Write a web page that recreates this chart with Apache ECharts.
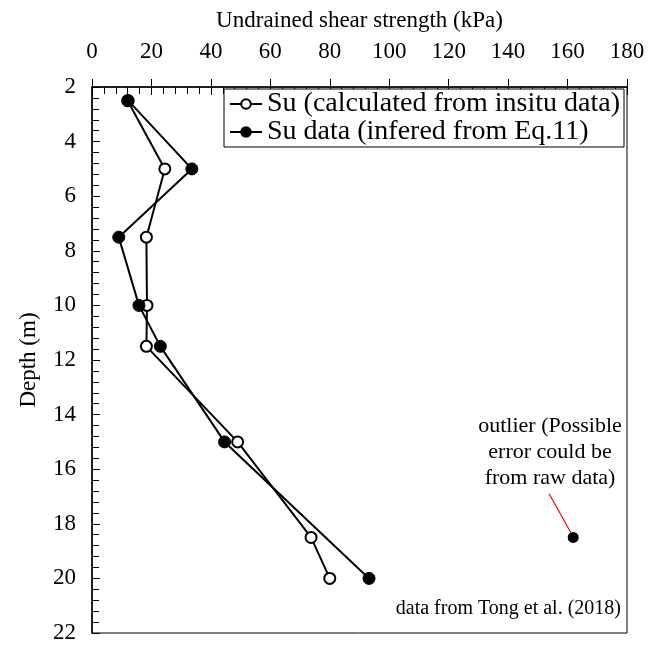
<!DOCTYPE html>
<html><head><meta charset="utf-8">
<script src="https://cdn.jsdelivr.net/npm/echarts@6/dist/echarts.min.js"></script>
<style>html,body{margin:0;padding:0;background:#fff}#c{width:654px;height:649px}</style>
</head><body><div id="c"></div>
<script>
const FONT = "'Liberation Serif','Times New Roman',serif";
// data
const depthCalc = [2.5, 5, 7.5, 10, 11.5, 15, 18.5, 20];
const suCalc    = [12, 24.5, 18.3, 18.5, 18.3, 49, 73.7, 80];
const depthInf  = [2.5, 5, 7.5, 10, 11.5, 15, 20];
const suInf     = [12.2, 33.6, 9, 15.8, 23, 44.6, 93.2];
const outlierDepth = [18.5];
const outlierSu    = [161.9];
const xTicks = [0, 20, 40, 60, 80, 100, 120, 140, 160, 180];
const yTicks = [2, 4, 6, 8, 10, 12, 14, 16, 18, 20, 22];
const names = ['Su (calculated from insitu data)', 'Su data (infered from Eq.11)'];
const annotLine = [[153.8, 16.9], [161.5, 18.4]];

const chart = echarts.init(document.getElementById('c'));
const pair = (xs, ys) => xs.map((v, i) => [v, ys[i]]);
const baseX = {
  type: 'value', position: 'top', min: xTicks[0], max: xTicks[xTicks.length - 1], interval: 20,
  splitLine: { show: false }
};
const baseY = {
  type: 'value', inverse: true, min: yTicks[0], max: yTicks[yTicks.length - 1], interval: 2,
  splitLine: { show: false }
};
chart.setOption({
  animation: false,
  textStyle: { fontFamily: FONT },
  grid: { left: 92, right: 27, top: 87, bottom: 16, show: true, borderColor: '#000', borderWidth: 1 },
  legend: {
    data: names, orient: 'vertical', right: 30, top: 89, itemGap: 0, itemWidth: 32, itemHeight: 12,
    borderColor: '#000', borderWidth: 1, padding: [1, 4, 1, 5], backgroundColor: '#fff',
    textStyle: { fontFamily: FONT, fontSize: 28, lineHeight: 27, color: '#000' }
  },
  xAxis: [
    Object.assign({}, baseX, {
      name: 'Undrained shear strength (kPa)', nameLocation: 'middle', nameGap: 55,
      nameTextStyle: { fontFamily: FONT, fontSize: 23, color: '#000' },
      axisLine: { lineStyle: { color: '#000', width: 1.5 } },
      axisTick: { inside: true, length: 8, lineStyle: { color: '#000' } },
      minorTick: { show: true, splitNumber: 5, length: 7, lineStyle: { color: '#000' } },
      axisLabel: { margin: 24, fontFamily: FONT, fontSize: 23, color: '#000' }
    }),
    Object.assign({}, baseX, {
      axisLine: { show: false }, axisLabel: { show: false },
      axisTick: { inside: false, length: 8, lineStyle: { color: '#000' } }
    })
  ],
  yAxis: [
    Object.assign({}, baseY, {
      name: 'Depth (m)', nameLocation: 'middle', nameGap: 52,
      nameTextStyle: { fontFamily: FONT, fontSize: 23, color: '#000' },
      axisLine: { lineStyle: { color: '#000', width: 1.5 } },
      axisTick: { inside: true, length: 8, lineStyle: { color: '#000' } },
      minorTick: { show: true, splitNumber: 5, length: 7, lineStyle: { color: '#000' } },
      axisLabel: { margin: 16, fontFamily: FONT, fontSize: 23, color: '#000' }
    }),
    Object.assign({}, baseY, {
      axisLine: { show: false }, axisLabel: { show: false },
      axisTick: { inside: false, length: 8, lineStyle: { color: '#000' } }
    })
  ],
  series: [
    {
      name: names[0], type: 'line', data: pair(suCalc, depthCalc),
      symbol: 'circle', symbolSize: 11, lineStyle: { color: '#000', width: 2 },
      itemStyle: { color: '#fff', borderColor: '#000', borderWidth: 2 }
    },
    {
      name: names[1], type: 'line', data: pair(suInf, depthInf),
      symbol: 'circle', symbolSize: 12, lineStyle: { color: '#000', width: 2 },
      itemStyle: { color: '#000', borderColor: '#000', borderWidth: 1 }
    },
    {
      name: 'outlier', type: 'scatter', data: pair(outlierSu, outlierDepth), z: 3,
      symbol: 'circle', symbolSize: 11, itemStyle: { color: '#000', opacity: 1 },
      markLine: {
        silent: true, symbol: ['none', 'none'], label: { show: false }, z: 2,
        lineStyle: { color: '#ff0000', width: 1.2, type: 'solid' },
        data: [[{ coord: annotLine[0] }, { coord: annotLine[1] }]]
      }
    }
  ],
  graphic: [
    {
      type: 'text', x: 550, y: 413,
      style: { text: 'outlier (Possible\nerror could be\nfrom raw data)', fontFamily: FONT, fontSize: 22,
        lineHeight: 26, fill: '#000', textAlign: 'center', textVerticalAlign: 'top' }
    },
    {
      type: 'text', x: 621, y: 609,
      style: { text: 'data from Tong et al. (2018)', fontFamily: FONT, fontSize: 20,
        fill: '#000', textAlign: 'right', textVerticalAlign: 'middle' }
    }
  ]
});
</script></body></html>
